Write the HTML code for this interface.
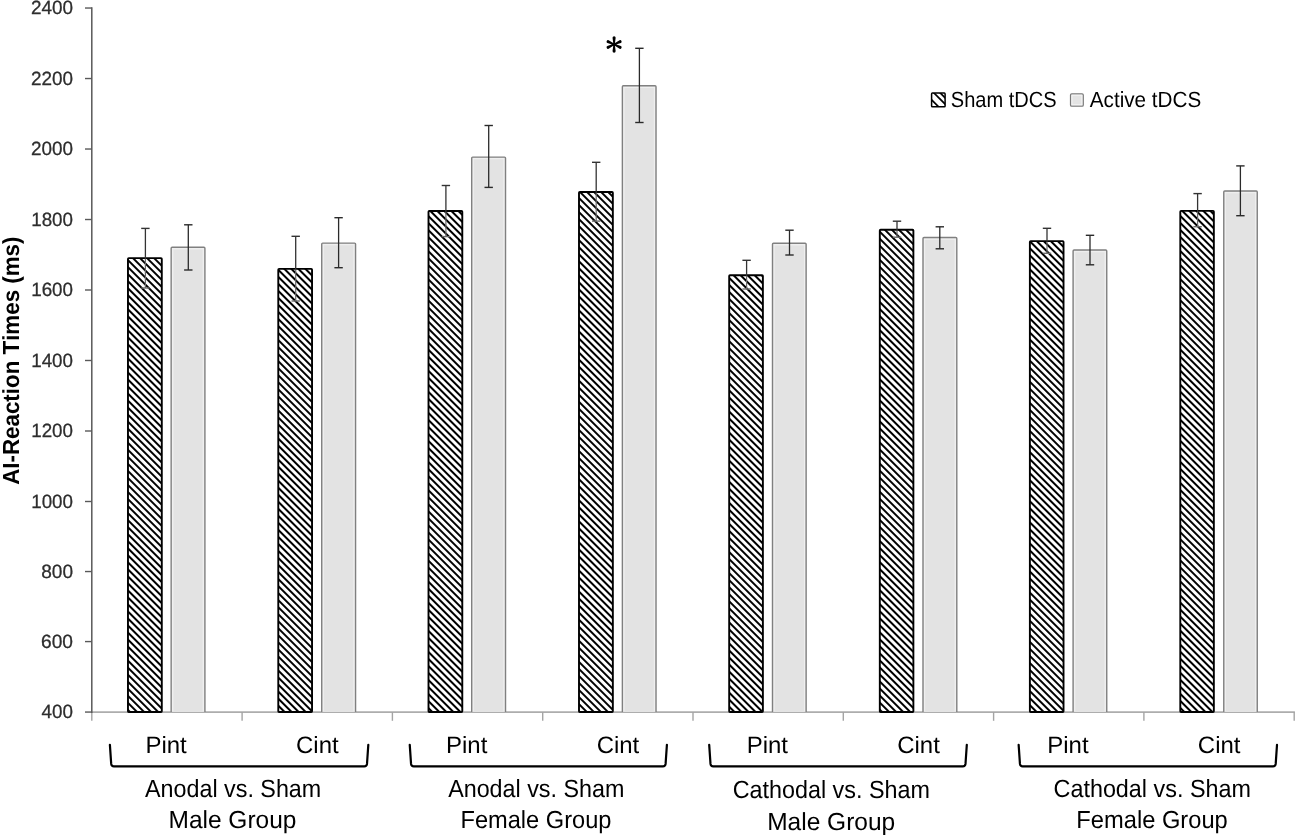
<!DOCTYPE html><html><head><meta charset="utf-8"><style>html,body{margin:0;padding:0;background:#fff;overflow:hidden;width:1295px;height:835px;}svg{display:block;will-change:transform;font-family:"Liberation Sans",sans-serif;font-kerning:none;}text{font-kerning:none;text-rendering:geometricPrecision;}</style></head><body><svg width="1295" height="835" viewBox="0 0 1295 835">
<defs><pattern id="hatch" patternUnits="userSpaceOnUse" width="4.97" height="10" patternTransform="rotate(-45)"><rect width="4.97" height="10" fill="#fff"/><rect x="0" y="0" width="2.0" height="10" fill="#000"/></pattern></defs>
<rect width="1295" height="835" fill="#fff"/>
<line x1="85" y1="8.03" x2="91.80" y2="8.03" stroke="#595959" stroke-width="1.4"/>
<text transform="translate(30.95,14.14) scale(0.9850,1)" font-size="19.21" fill="#2e2e2e" stroke="#2e2e2e" stroke-width="0.3">2400</text>
<line x1="85" y1="78.53" x2="91.80" y2="78.53" stroke="#595959" stroke-width="1.4"/>
<text transform="translate(30.95,84.64) scale(0.9850,1)" font-size="19.21" fill="#2e2e2e" stroke="#2e2e2e" stroke-width="0.3">2200</text>
<line x1="85" y1="149.02" x2="91.80" y2="149.02" stroke="#595959" stroke-width="1.4"/>
<text transform="translate(30.95,155.13) scale(0.9850,1)" font-size="19.21" fill="#2e2e2e" stroke="#2e2e2e" stroke-width="0.3">2000</text>
<line x1="85" y1="219.51" x2="91.80" y2="219.51" stroke="#595959" stroke-width="1.4"/>
<text transform="translate(31.17,225.62) scale(0.9798,1)" font-size="19.21" fill="#2e2e2e" stroke="#2e2e2e" stroke-width="0.3">1800</text>
<line x1="85" y1="290.00" x2="91.80" y2="290.00" stroke="#595959" stroke-width="1.4"/>
<text transform="translate(31.17,296.11) scale(0.9798,1)" font-size="19.21" fill="#2e2e2e" stroke="#2e2e2e" stroke-width="0.3">1600</text>
<line x1="85" y1="360.49" x2="91.80" y2="360.49" stroke="#595959" stroke-width="1.4"/>
<text transform="translate(31.17,366.60) scale(0.9798,1)" font-size="19.21" fill="#2e2e2e" stroke="#2e2e2e" stroke-width="0.3">1400</text>
<line x1="85" y1="431.00" x2="91.80" y2="431.00" stroke="#595959" stroke-width="1.4"/>
<text transform="translate(31.17,437.11) scale(0.9798,1)" font-size="19.21" fill="#2e2e2e" stroke="#2e2e2e" stroke-width="0.3">1200</text>
<line x1="85" y1="501.50" x2="91.80" y2="501.50" stroke="#595959" stroke-width="1.4"/>
<text transform="translate(31.17,507.61) scale(0.9798,1)" font-size="19.21" fill="#2e2e2e" stroke="#2e2e2e" stroke-width="0.3">1000</text>
<line x1="85" y1="571.54" x2="91.80" y2="571.54" stroke="#595959" stroke-width="1.4"/>
<text transform="translate(41.17,577.65) scale(0.9946,1)" font-size="19.21" fill="#2e2e2e" stroke="#2e2e2e" stroke-width="0.3">800</text>
<line x1="85" y1="641.58" x2="91.80" y2="641.58" stroke="#595959" stroke-width="1.4"/>
<text transform="translate(41.03,647.69) scale(0.9992,1)" font-size="19.21" fill="#2e2e2e" stroke="#2e2e2e" stroke-width="0.3">600</text>
<line x1="85" y1="712.06" x2="91.80" y2="712.06" stroke="#595959" stroke-width="1.4"/>
<text transform="translate(41.57,718.17) scale(0.9819,1)" font-size="19.21" fill="#2e2e2e" stroke="#2e2e2e" stroke-width="0.3">400</text>
<line x1="91.80" y1="712.1" x2="1294.90" y2="712.1" stroke="#adadad" stroke-width="1.9"/>
<line x1="91.80" y1="712" x2="91.80" y2="720.8" stroke="#a4a4a4" stroke-width="1.4"/>
<line x1="242.10" y1="712" x2="242.10" y2="720.8" stroke="#a4a4a4" stroke-width="1.4"/>
<line x1="392.40" y1="712" x2="392.40" y2="720.8" stroke="#a4a4a4" stroke-width="1.4"/>
<line x1="542.70" y1="712" x2="542.70" y2="720.8" stroke="#a4a4a4" stroke-width="1.4"/>
<line x1="693.00" y1="712" x2="693.00" y2="720.8" stroke="#a4a4a4" stroke-width="1.4"/>
<line x1="843.30" y1="712" x2="843.30" y2="720.8" stroke="#a4a4a4" stroke-width="1.4"/>
<line x1="993.60" y1="712" x2="993.60" y2="720.8" stroke="#a4a4a4" stroke-width="1.4"/>
<line x1="1143.90" y1="712" x2="1143.90" y2="720.8" stroke="#a4a4a4" stroke-width="1.4"/>
<line x1="1294.20" y1="712" x2="1294.20" y2="720.8" stroke="#a4a4a4" stroke-width="1.4"/>
<rect x="127.97" y="258.10" width="33.82" height="453.90" rx="0.8" fill="url(#hatch)" stroke="#000" stroke-width="1.9"/>
<rect x="171.15" y="247.25" width="33.77" height="464.75" fill="#e3e3e3"/>
<path d="M172.65,711.10 V248.75 H203.42 V711.10" fill="none" stroke="#efefef" stroke-width="1.4"/>
<path d="M171.15,712.00 V248.25 Q171.15,247.25 172.15,247.25 H203.92 Q204.92,247.25 204.92,248.25 V712.00" fill="none" stroke="#808080" stroke-width="1.4"/>
<rect x="278.29" y="268.90" width="33.75" height="443.10" rx="0.8" fill="url(#hatch)" stroke="#000" stroke-width="1.9"/>
<rect x="321.72" y="243.10" width="33.85" height="468.90" fill="#e3e3e3"/>
<path d="M323.22,711.10 V244.60 H354.07 V711.10" fill="none" stroke="#efefef" stroke-width="1.4"/>
<path d="M321.72,712.00 V244.10 Q321.72,243.10 322.72,243.10 H354.57 Q355.57,243.10 355.57,244.10 V712.00" fill="none" stroke="#808080" stroke-width="1.4"/>
<rect x="428.51" y="211.05" width="33.78" height="500.95" rx="0.8" fill="url(#hatch)" stroke="#000" stroke-width="1.9"/>
<rect x="471.69" y="157.10" width="33.84" height="554.90" fill="#e3e3e3"/>
<path d="M473.19,711.10 V158.60 H504.03 V711.10" fill="none" stroke="#efefef" stroke-width="1.4"/>
<path d="M471.69,712.00 V158.10 Q471.69,157.10 472.69,157.10 H504.53 Q505.53,157.10 505.53,158.10 V712.00" fill="none" stroke="#808080" stroke-width="1.4"/>
<rect x="579.00" y="192.00" width="33.84" height="520.00" rx="0.8" fill="url(#hatch)" stroke="#000" stroke-width="1.9"/>
<rect x="622.37" y="85.80" width="33.67" height="626.20" fill="#e3e3e3"/>
<path d="M623.87,711.10 V87.30 H654.53 V711.10" fill="none" stroke="#efefef" stroke-width="1.4"/>
<path d="M622.37,712.00 V86.80 Q622.37,85.80 623.37,85.80 H655.03 Q656.03,85.80 656.03,86.80 V712.00" fill="none" stroke="#808080" stroke-width="1.4"/>
<rect x="729.19" y="275.20" width="33.69" height="436.80" rx="0.8" fill="url(#hatch)" stroke="#000" stroke-width="1.9"/>
<rect x="772.49" y="243.20" width="33.65" height="468.80" fill="#e3e3e3"/>
<path d="M773.99,711.10 V244.70 H804.64 V711.10" fill="none" stroke="#efefef" stroke-width="1.4"/>
<path d="M772.49,712.00 V244.20 Q772.49,243.20 773.49,243.20 H805.14 Q806.14,243.20 806.14,244.20 V712.00" fill="none" stroke="#808080" stroke-width="1.4"/>
<rect x="879.81" y="229.74" width="33.57" height="482.26" rx="0.8" fill="url(#hatch)" stroke="#000" stroke-width="1.9"/>
<rect x="922.99" y="237.50" width="33.81" height="474.50" fill="#e3e3e3"/>
<path d="M924.49,711.10 V239.00 H955.30 V711.10" fill="none" stroke="#efefef" stroke-width="1.4"/>
<path d="M922.99,712.00 V238.50 Q922.99,237.50 923.99,237.50 H955.80 Q956.80,237.50 956.80,238.50 V712.00" fill="none" stroke="#808080" stroke-width="1.4"/>
<rect x="1029.88" y="241.08" width="33.65" height="470.92" rx="0.8" fill="url(#hatch)" stroke="#000" stroke-width="1.9"/>
<rect x="1073.09" y="250.07" width="33.67" height="461.93" fill="#e3e3e3"/>
<path d="M1074.59,711.10 V251.57 H1105.25 V711.10" fill="none" stroke="#efefef" stroke-width="1.4"/>
<path d="M1073.09,712.00 V251.07 Q1073.09,250.07 1074.09,250.07 H1105.75 Q1106.75,250.07 1106.75,251.07 V712.00" fill="none" stroke="#808080" stroke-width="1.4"/>
<rect x="1180.30" y="210.86" width="33.54" height="501.14" rx="0.8" fill="url(#hatch)" stroke="#000" stroke-width="1.9"/>
<rect x="1223.76" y="191.04" width="33.50" height="520.96" fill="#e3e3e3"/>
<path d="M1225.26,711.10 V192.54 H1255.76 V711.10" fill="none" stroke="#efefef" stroke-width="1.4"/>
<path d="M1223.76,712.00 V192.04 Q1223.76,191.04 1224.76,191.04 H1256.26 Q1257.26,191.04 1257.26,192.04 V712.00" fill="none" stroke="#808080" stroke-width="1.4"/>
<line x1="91.80" y1="7.3" x2="91.80" y2="713" stroke="#595959" stroke-width="1.5"/>
<line x1="145.40" y1="228.40" x2="145.40" y2="259.00" stroke="#333" stroke-width="1.3"/>
<line x1="145.40" y1="259.00" x2="145.40" y2="288.00" stroke="#6a6a6a" stroke-width="1.2"/>
<line x1="141.20" y1="228.40" x2="149.60" y2="228.40" stroke="#333" stroke-width="1.4"/>
<line x1="141.20" y1="288.00" x2="149.60" y2="288.00" stroke="#6a6a6a" stroke-width="1.4"/>
<line x1="188.30" y1="224.80" x2="188.30" y2="270.00" stroke="#2a2a2a" stroke-width="1.3"/>
<line x1="184.10" y1="224.80" x2="192.50" y2="224.80" stroke="#2a2a2a" stroke-width="1.4"/>
<line x1="184.10" y1="270.00" x2="192.50" y2="270.00" stroke="#2a2a2a" stroke-width="1.4"/>
<line x1="295.70" y1="236.30" x2="295.70" y2="269.80" stroke="#333" stroke-width="1.3"/>
<line x1="295.70" y1="269.80" x2="295.70" y2="301.00" stroke="#6a6a6a" stroke-width="1.2"/>
<line x1="291.50" y1="236.30" x2="299.90" y2="236.30" stroke="#333" stroke-width="1.4"/>
<line x1="291.50" y1="301.00" x2="299.90" y2="301.00" stroke="#6a6a6a" stroke-width="1.4"/>
<line x1="338.60" y1="217.70" x2="338.60" y2="267.70" stroke="#2a2a2a" stroke-width="1.3"/>
<line x1="334.40" y1="217.70" x2="342.80" y2="217.70" stroke="#2a2a2a" stroke-width="1.4"/>
<line x1="334.40" y1="267.70" x2="342.80" y2="267.70" stroke="#2a2a2a" stroke-width="1.4"/>
<line x1="445.90" y1="185.50" x2="445.90" y2="211.95" stroke="#333" stroke-width="1.3"/>
<line x1="445.90" y1="211.95" x2="445.90" y2="236.60" stroke="#6a6a6a" stroke-width="1.2"/>
<line x1="441.70" y1="185.50" x2="450.10" y2="185.50" stroke="#333" stroke-width="1.4"/>
<line x1="441.70" y1="236.60" x2="450.10" y2="236.60" stroke="#6a6a6a" stroke-width="1.4"/>
<line x1="488.70" y1="125.50" x2="488.70" y2="187.40" stroke="#2a2a2a" stroke-width="1.3"/>
<line x1="484.50" y1="125.50" x2="492.90" y2="125.50" stroke="#2a2a2a" stroke-width="1.4"/>
<line x1="484.50" y1="187.40" x2="492.90" y2="187.40" stroke="#2a2a2a" stroke-width="1.4"/>
<line x1="596.20" y1="162.30" x2="596.20" y2="192.90" stroke="#333" stroke-width="1.3"/>
<line x1="596.20" y1="192.90" x2="596.20" y2="221.10" stroke="#6a6a6a" stroke-width="1.2"/>
<line x1="592.00" y1="162.30" x2="600.40" y2="162.30" stroke="#333" stroke-width="1.4"/>
<line x1="592.00" y1="221.10" x2="600.40" y2="221.10" stroke="#6a6a6a" stroke-width="1.4"/>
<line x1="639.40" y1="48.30" x2="639.40" y2="122.50" stroke="#2a2a2a" stroke-width="1.3"/>
<line x1="635.20" y1="48.30" x2="643.60" y2="48.30" stroke="#2a2a2a" stroke-width="1.4"/>
<line x1="635.20" y1="122.50" x2="643.60" y2="122.50" stroke="#2a2a2a" stroke-width="1.4"/>
<line x1="746.60" y1="260.30" x2="746.60" y2="276.10" stroke="#333" stroke-width="1.3"/>
<line x1="746.60" y1="276.10" x2="746.60" y2="289.00" stroke="#6a6a6a" stroke-width="1.2"/>
<line x1="742.40" y1="260.30" x2="750.80" y2="260.30" stroke="#333" stroke-width="1.4"/>
<line x1="742.40" y1="289.00" x2="750.80" y2="289.00" stroke="#6a6a6a" stroke-width="1.4"/>
<line x1="789.50" y1="230.20" x2="789.50" y2="255.00" stroke="#2a2a2a" stroke-width="1.3"/>
<line x1="785.30" y1="230.20" x2="793.70" y2="230.20" stroke="#2a2a2a" stroke-width="1.4"/>
<line x1="785.30" y1="255.00" x2="793.70" y2="255.00" stroke="#2a2a2a" stroke-width="1.4"/>
<line x1="897.00" y1="221.20" x2="897.00" y2="230.64" stroke="#333" stroke-width="1.3"/>
<line x1="897.00" y1="230.64" x2="897.00" y2="237.20" stroke="#6a6a6a" stroke-width="1.2"/>
<line x1="892.80" y1="221.20" x2="901.20" y2="221.20" stroke="#333" stroke-width="1.4"/>
<line x1="892.80" y1="237.20" x2="901.20" y2="237.20" stroke="#6a6a6a" stroke-width="1.4"/>
<line x1="939.80" y1="226.80" x2="939.80" y2="248.80" stroke="#2a2a2a" stroke-width="1.3"/>
<line x1="935.60" y1="226.80" x2="944.00" y2="226.80" stroke="#2a2a2a" stroke-width="1.4"/>
<line x1="935.60" y1="248.80" x2="944.00" y2="248.80" stroke="#2a2a2a" stroke-width="1.4"/>
<line x1="1047.00" y1="228.30" x2="1047.00" y2="241.98" stroke="#333" stroke-width="1.3"/>
<line x1="1047.00" y1="241.98" x2="1047.00" y2="253.30" stroke="#6a6a6a" stroke-width="1.2"/>
<line x1="1042.80" y1="228.30" x2="1051.20" y2="228.30" stroke="#333" stroke-width="1.4"/>
<line x1="1042.80" y1="253.30" x2="1051.20" y2="253.30" stroke="#6a6a6a" stroke-width="1.4"/>
<line x1="1090.00" y1="235.30" x2="1090.00" y2="264.80" stroke="#2a2a2a" stroke-width="1.3"/>
<line x1="1085.80" y1="235.30" x2="1094.20" y2="235.30" stroke="#2a2a2a" stroke-width="1.4"/>
<line x1="1085.80" y1="264.80" x2="1094.20" y2="264.80" stroke="#2a2a2a" stroke-width="1.4"/>
<line x1="1197.60" y1="193.60" x2="1197.60" y2="211.76" stroke="#333" stroke-width="1.3"/>
<line x1="1197.60" y1="211.76" x2="1197.60" y2="226.70" stroke="#6a6a6a" stroke-width="1.2"/>
<line x1="1193.40" y1="193.60" x2="1201.80" y2="193.60" stroke="#333" stroke-width="1.4"/>
<line x1="1193.40" y1="226.70" x2="1201.80" y2="226.70" stroke="#6a6a6a" stroke-width="1.4"/>
<line x1="1240.40" y1="165.90" x2="1240.40" y2="215.70" stroke="#2a2a2a" stroke-width="1.3"/>
<line x1="1236.20" y1="165.90" x2="1244.60" y2="165.90" stroke="#2a2a2a" stroke-width="1.4"/>
<line x1="1236.20" y1="215.70" x2="1244.60" y2="215.70" stroke="#2a2a2a" stroke-width="1.4"/>
<path d="M614.80,44.45 L615.65,37.80 A1.55,1.55 0 0 0 612.55,37.80 L613.40,44.45 Z M613.40,44.45 L612.55,51.10 A1.55,1.55 0 0 0 615.65,51.10 L614.80,44.45 Z M614.40,45.08 L620.86,42.94 A1.55,1.55 0 0 0 619.53,40.15 L613.80,43.82 Z M613.80,45.08 L619.53,48.75 A1.55,1.55 0 0 0 620.86,45.96 L614.40,43.82 Z M613.80,43.82 L607.34,45.96 A1.55,1.55 0 0 0 608.67,48.75 L614.40,45.08 Z M614.40,43.82 L608.67,40.15 A1.55,1.55 0 0 0 607.34,42.94 L613.80,45.08 Z" fill="#000"/>
<circle cx="614.1" cy="44.45" r="1.3" fill="#000"/>
<clipPath id="lgclip"><rect x="931.6" y="93.1" width="13.5" height="13.7"/></clipPath>
<rect x="931.6" y="93.1" width="13.5" height="13.7" fill="#fff"/>
<g clip-path="url(#lgclip)"><line x1="911.80" y1="80" x2="951.80" y2="120" stroke="#000" stroke-width="1.7"/><line x1="921.00" y1="80" x2="961.00" y2="120" stroke="#000" stroke-width="1.7"/><line x1="927.30" y1="80" x2="967.30" y2="120" stroke="#000" stroke-width="1.7"/></g>
<rect x="931.6" y="93.1" width="13.5" height="13.7" rx="0.8" fill="none" stroke="#000" stroke-width="1.5"/>
<text transform="translate(950.79,106.50) scale(0.9142,1)" font-size="21.95" font-weight="normal" fill="#000">Sham tDCS</text>
<rect x="1070.55" y="93.85" width="12.7" height="12.3" rx="1.2" fill="#e4e4e4" stroke="#7a7a7a" stroke-width="1.3"/>
<rect x="1071.95" y="95.25" width="9.9" height="9.5" fill="none" stroke="#f3f3f3" stroke-width="1.1"/>
<text transform="translate(1089.76,106.50) scale(0.9424,1)" font-size="21.95" font-weight="normal" fill="#000">Active tDCS</text>
<g transform="translate(19,484.3) rotate(-90)"><text transform="translate(-0.56,0) scale(0.9610,1)" font-size="23.26" font-weight="bold" fill="#000">AI-Reaction Times (ms)</text></g>
<text transform="translate(145.43,753.40) scale(1.0190,1)" font-size="23.55" font-weight="normal" fill="#000">Pint</text>
<text transform="translate(296.03,753.40) scale(1.0172,1)" font-size="23.55" font-weight="normal" fill="#000">Cint</text>
<text transform="translate(446.03,753.40) scale(1.0190,1)" font-size="23.55" font-weight="normal" fill="#000">Pint</text>
<text transform="translate(596.63,753.40) scale(1.0172,1)" font-size="23.55" font-weight="normal" fill="#000">Cint</text>
<text transform="translate(746.63,753.40) scale(1.0190,1)" font-size="23.55" font-weight="normal" fill="#000">Pint</text>
<text transform="translate(897.23,753.40) scale(1.0172,1)" font-size="23.55" font-weight="normal" fill="#000">Cint</text>
<text transform="translate(1047.23,753.40) scale(1.0190,1)" font-size="23.55" font-weight="normal" fill="#000">Pint</text>
<text transform="translate(1197.83,753.40) scale(1.0172,1)" font-size="23.55" font-weight="normal" fill="#000">Cint</text>
<path d="M109.90,744.9 L111.20,763.90 Q111.50,766.4 113.90,766.4 L364.30,766.4 Q366.70,766.4 367.00,763.90 L368.30,744.9" fill="none" stroke="#000" stroke-width="2.2" stroke-linecap="round" stroke-linejoin="round"/>
<path d="M409.75,744.9 L411.05,763.90 Q411.35,766.4 413.75,766.4 L662.90,766.4 Q665.30,766.4 665.60,763.90 L666.90,744.9" fill="none" stroke="#000" stroke-width="2.2" stroke-linecap="round" stroke-linejoin="round"/>
<path d="M709.20,744.9 L710.50,763.90 Q710.80,766.4 713.20,766.4 L962.80,766.4 Q965.20,766.4 965.50,763.90 L966.80,744.9" fill="none" stroke="#000" stroke-width="2.2" stroke-linecap="round" stroke-linejoin="round"/>
<path d="M1018.65,744.9 L1019.95,763.90 Q1020.25,766.4 1022.65,766.4 L1273.00,766.4 Q1275.40,766.4 1275.70,763.90 L1277.00,744.9" fill="none" stroke="#000" stroke-width="2.2" stroke-linecap="round" stroke-linejoin="round"/>
<text transform="translate(145.05,797.10) scale(0.9382,1)" font-size="24.85" font-weight="normal" fill="#000">Anodal vs. Sham</text>
<text transform="translate(168.49,828.20) scale(0.9910,1)" font-size="24.71" font-weight="normal" fill="#000">Male Group</text>
<text transform="translate(448.15,797.10) scale(0.9382,1)" font-size="24.85" font-weight="normal" fill="#000">Anodal vs. Sham</text>
<text transform="translate(460.46,828.00) scale(0.9563,1)" font-size="24.71" font-weight="normal" fill="#000">Female Group</text>
<text transform="translate(732.71,798.00) scale(0.9392,1)" font-size="24.85" font-weight="normal" fill="#000">Cathodal vs. Sham</text>
<text transform="translate(767.19,829.90) scale(0.9918,1)" font-size="24.71" font-weight="normal" fill="#000">Male Group</text>
<text transform="translate(1053.51,796.80) scale(0.9407,1)" font-size="24.85" font-weight="normal" fill="#000">Cathodal vs. Sham</text>
<text transform="translate(1076.36,828.00) scale(0.9589,1)" font-size="24.71" font-weight="normal" fill="#000">Female Group</text>
</svg></body></html>
